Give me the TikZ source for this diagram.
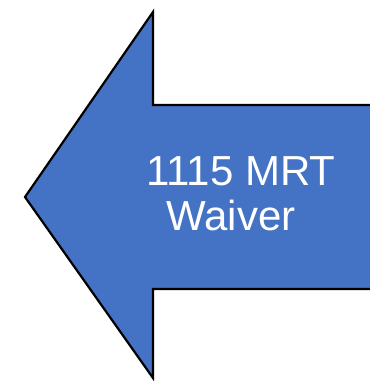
\documentclass[tikz,border=0pt]{standalone}
\usepackage{fontspec}
\setmainfont{Liberation Sans}
\usepackage{xcolor}
\definecolor{myblue}{RGB}{68,114,196}
\tikzstyle{arrowbody}=[fill=myblue]
\tikzstyle{arrowedge}=[line width=2.2pt, black, line join=miter]
\tikzstyle{label}=[text=white, inner sep=0pt, anchor=base, font=\fontsize{42}{45}\selectfont]

\begin{document}
\begin{tikzpicture}[x=1pt, y=-1pt]
\useasboundingbox (0,0) rectangle (370,381);

% big arrow pointing left
\fill[arrowbody] (372,105) -- (153,105) -- (153,12) -- (25,197) -- (153,378) -- (153,289) -- (372,289) -- cycle;
\draw[arrowedge] (372,105) -- (153,105) -- (153,12) -- (25,197) -- (153,378) -- (153,289) -- (372,289);

% text
\node[label] (line1) at (241,185) {1115 MRT};
\node[label] (line2) at (231,230) {Waiver};

\end{tikzpicture}
\end{document}
